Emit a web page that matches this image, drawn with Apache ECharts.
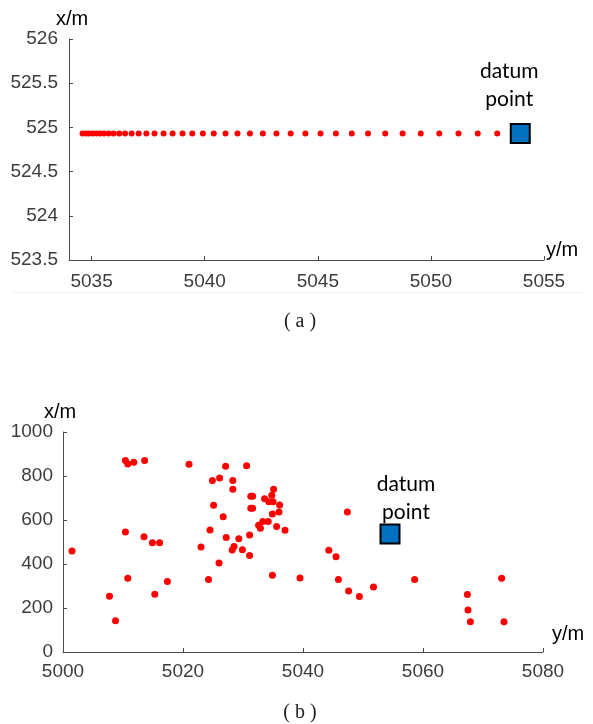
<!DOCTYPE html>
<html>
<head>
  <meta charset="UTF-8">
  <title>datum point scatter</title>
  <style>
    html, body { margin: 0; padding: 0; background: #fff; }
    #chart { width: 593px; height: 724px; }
  </style>
</head>
<body>
  <div id="chart"></div>
  <script src="https://cdn.jsdelivr.net/npm/echarts@6/dist/echarts.min.js"></script>
  <script>
    // (a) points along one line, horizontal = y/m, vertical = x/m
    const lineY = [5034.60, 5034.75, 5034.88, 5035.05, 5035.22, 5035.38, 5035.55, 5035.75,
      5035.97, 5036.22, 5036.48, 5036.77, 5037.08, 5037.42, 5037.78, 5038.18, 5038.58,
      5039.02, 5039.45, 5039.92, 5040.40, 5040.92, 5041.45, 5042.00, 5042.57, 5043.17,
      5043.80, 5044.45, 5045.12, 5045.80, 5046.50, 5047.22, 5047.98, 5048.75, 5049.55,
      5050.37, 5051.22, 5052.07, 5052.93];
    const lineX = 524.93;
    const datumA = [5053.95, 524.93];

    // (b) scattered points
    const scatY = [5001.5, 5007.75, 5008.75, 5010.4, 5010.8, 5011.8, 5013.6, 5010.4, 5013.5,
      5014.9, 5016.1, 5010.8, 5015.3, 5017.4, 5021.0, 5023.0, 5024.25, 5024.5, 5024.9,
      5025.1, 5026.0, 5026.1, 5026.7, 5027.1, 5027.2, 5028.2, 5028.3, 5028.3, 5028.5,
      5029.3, 5029.9, 5030.6, 5031.1, 5031.1, 5031.3, 5031.6, 5031.3, 5031.6, 5032.6,
      5032.9, 5033.3, 5033.6, 5034.2, 5034.3, 5034.8, 5034.9, 5034.9, 5035.0, 5035.1,
      5035.6, 5036.0, 5036.1, 5037.0, 5039.5, 5044.3, 5045.5, 5045.9, 5047.4, 5047.6,
      5049.4, 5051.75, 5058.6, 5067.4, 5067.5, 5067.9, 5073.1, 5073.5];
    const scatX = [459, 253, 142, 870, 855, 862, 870, 545, 524,
      497, 497, 335, 262, 321, 853, 477, 330, 555, 780,
      667, 405, 791, 615, 844, 521, 464, 779, 740, 479,
      515, 465, 847, 532, 439, 708, 708, 653, 653, 576,
      562, 593, 697, 593, 683, 712, 627, 349, 683, 740,
      570, 636, 668, 553, 336, 462, 433, 330, 636, 277,
      252, 295, 329, 261, 191, 138, 335, 138];
    const datumB = [5054.5, 536];

    // tick labels
    const ticksA_h = [5035, 5040, 5045, 5050, 5055];
    const ticksA_v = [523.5, 524, 524.5, 525, 525.5, 526];
    const ticksB_h = [5000, 5020, 5040, 5060, 5080];
    const ticksB_v = [0, 200, 400, 600, 800, 1000];

    const numFont = 'Liberation Sans';
    const axisCol = '#4a4a4a';
    const labelCol = '#3c3c3c';
    const plain = function (v) { return String(v); };

    function axisBase() {
      return {
        type: 'value',
        splitLine: { show: false },
        axisLine: { show: true, lineStyle: { color: axisCol, width: 1 } },
        axisTick: { show: true, inside: true, length: 4, lineStyle: { color: axisCol } },
        axisLabel: { color: labelCol, fontSize: 19, fontFamily: numFont, formatter: plain },
        nameTextStyle: { color: '#000', fontSize: 20, fontFamily: numFont }
      };
    }

    const chart = echarts.init(document.getElementById('chart'), null, { renderer: 'canvas' });

    const xA = Object.assign(axisBase(), {
      gridIndex: 0, min: 5034, max: 5055,
      name: 'y/m', nameLocation: 'end', nameGap: 2
    });
    xA.axisLabel = Object.assign({}, xA.axisLabel, { margin: 12, customValues: ticksA_h });
    xA.axisTick = Object.assign({}, xA.axisTick, { customValues: ticksA_h });
    xA.nameTextStyle = Object.assign({}, xA.nameTextStyle, { verticalAlign: 'bottom', padding: [0, 0, 0, 0] });

    const yA = Object.assign(axisBase(), {
      gridIndex: 0, min: ticksA_v[0], max: ticksA_v[ticksA_v.length - 1], interval: 0.5,
      name: 'x/m', nameLocation: 'end', nameGap: 8
    });
    yA.axisLabel = Object.assign({}, yA.axisLabel, { margin: 11 });
    yA.nameTextStyle = Object.assign({}, yA.nameTextStyle, { padding: [0, 0, 0, 6] });

    const xB = Object.assign(axisBase(), {
      gridIndex: 1, min: ticksB_h[0], max: ticksB_h[ticksB_h.length - 1], interval: 20,
      name: 'y/m', nameLocation: 'end', nameGap: 9
    });
    xB.axisLabel = Object.assign({}, xB.axisLabel, { margin: 10 });
    xB.nameTextStyle = Object.assign({}, xB.nameTextStyle, { verticalAlign: 'bottom', padding: [0, 0, 8, 0] });

    const yB = Object.assign(axisBase(), {
      gridIndex: 1, min: ticksB_v[0], max: ticksB_v[ticksB_v.length - 1], interval: 200,
      name: 'x/m', nameLocation: 'end', nameGap: 10
    });
    yB.axisLabel = Object.assign({}, yB.axisLabel, { margin: 10 });
    yB.nameTextStyle = Object.assign({}, yB.nameTextStyle, { padding: [0, 6, 0, 0] });

    const datumLabel = {
      show: true,
      position: 'top',
      distance: 0,
      formatter: 'datum\npoint',
      color: '#000',
      fontSize: 21,
      lineHeight: 28,
      fontFamily: 'Lato',
      align: 'center'
    };

    const capStyle = {
      fill: '#222', fontSize: 20, fontFamily: 'Liberation Serif',
      textAlign: 'center', textVerticalAlign: 'middle'
    };

    chart.setOption({
      animation: false,
      backgroundColor: '#fff',
      grid: [
        { left: 69, top: 39, width: 475, height: 221 },
        { left: 63, top: 432, width: 480, height: 220 }
      ],
      xAxis: [xA, xB],
      yAxis: [yA, yB],
      graphic: [
        { type: 'line', shape: { x1: 12, y1: 292.5, x2: 582, y2: 292.5 },
          style: { stroke: '#f0f0f0', lineWidth: 1 } },
        { type: 'text', x: 300, y: 322, style: Object.assign({ text: '( a )' }, capStyle) },
        { type: 'text', x: 300, y: 713, style: Object.assign({ text: '( b )' }, capStyle) }
      ],
      series: [
        {
          type: 'scatter', xAxisIndex: 0, yAxisIndex: 0,
          symbol: 'circle', symbolSize: 6,
          itemStyle: { color: '#ff0000', opacity: 1 },
          data: lineY.map(function (v) { return [v, lineX]; })
        },
        {
          type: 'scatter', xAxisIndex: 0, yAxisIndex: 0,
          symbol: 'rect', symbolSize: 19,
          itemStyle: { color: '#0070c0', borderColor: '#000', borderWidth: 2, opacity: 1 },
          label: Object.assign({}, datumLabel, { offset: [-11, -10] }),
          data: [datumA]
        },
        {
          type: 'scatter', xAxisIndex: 1, yAxisIndex: 1,
          symbol: 'circle', symbolSize: 7,
          itemStyle: { color: '#ff0000', opacity: 1 },
          data: scatY.map(function (v, i) { return [v, scatX[i]]; })
        },
        {
          type: 'scatter', xAxisIndex: 1, yAxisIndex: 1,
          symbol: 'rect', symbolSize: 19,
          itemStyle: { color: '#0070c0', borderColor: '#000', borderWidth: 2, opacity: 1 },
          label: Object.assign({}, datumLabel, { offset: [16, 3] }),
          data: [datumB]
        }
      ]
    });
  </script>
</body>
</html>
